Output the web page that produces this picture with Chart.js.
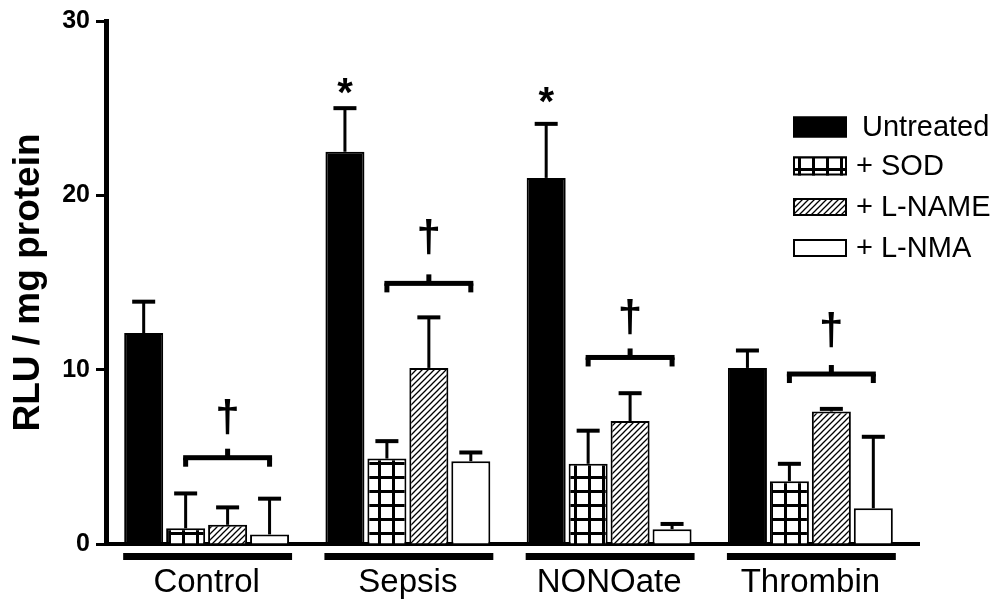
<!DOCTYPE html>
<html><head><meta charset="utf-8">
<script src="https://cdn.jsdelivr.net/npm/chart.js@4/dist/chart.umd.min.js"></script>
<style>html,body{margin:0;padding:0;background:#fff;}#wrap{width:1004px;height:607px;}</style>
</head><body><div id="wrap"><canvas id="c" width="1004" height="607"></canvas></div>
<script>
const categories = ['Control', 'Sepsis', 'NONOate', 'Thrombin'];
const seriesNames = ['Untreated', '+ SOD', '+ L-NAME', '+ L-NMA'];
const untreated = [12.1, 22.5, 21.0, 10.1];
const untreatedErr = [1.8, 2.5, 3.1, 1.0];
const sod = [0.9, 4.9, 4.6, 3.6];
const sodErr = [2.0, 1.0, 1.9, 1.0];
const lname = [1.1, 10.1, 7.05, 7.6];
const lnameErr = [1.0, 2.9, 1.6, 0.15];
const lnma = [0.55, 4.75, 0.85, 2.05];
const lnmaErr = [2.05, 0.5, 0.3, 4.1];
const yTicks = [0, 10, 20, 30];
const bracketLevel = [4.95, 14.95, 10.7, 9.75];
const daggerLevel = [6.25, 16.6, 12.0, 11.25];
const starLevel = [null, 25.8, 25.3, null];

const FONT = "'Liberation Sans', Arial, Helvetica, sans-serif";
const canvas = document.getElementById('c');
const ctx = canvas.getContext('2d');

function gridPattern() {
  const c = document.createElement('canvas'); c.width = 14; c.height = 14;
  const g = c.getContext('2d');
  g.fillStyle = '#fff'; g.fillRect(0, 0, 14, 14);
  g.fillStyle = '#000'; g.fillRect(0, 0, 3, 14); g.fillRect(0, 0, 14, 3);
  return ctx.createPattern(c, 'repeat');
}
function hatchPattern() {
  const s = 6;
  const c = document.createElement('canvas'); c.width = s; c.height = s;
  const g = c.getContext('2d');
  g.fillStyle = '#fff'; g.fillRect(0, 0, s, s);
  g.strokeStyle = '#000'; g.lineWidth = 1.3;
  g.beginPath();
  g.moveTo(-1, s + 1); g.lineTo(s + 1, -1);
  g.moveTo(-1, 1); g.lineTo(1, -1);
  g.moveTo(s - 1, s + 1); g.lineTo(s + 1, s - 1);
  g.stroke();
  return ctx.createPattern(c, 'repeat');
}
const fills = ['#000', gridPattern(), hatchPattern(), '#fff'];
const values = [untreated, sod, lname, lnma];
const errors = [untreatedErr, sodErr, lnameErr, lnmaErr];

const decor = {
  id: 'decor',
  afterDatasetsDraw(chart) {
    const c = chart.ctx, y = chart.scales.y, area = chart.chartArea;
    c.save();
    // error bars
    for (let d = 0; d < 4; d++) {
      const meta = chart.getDatasetMeta(d);
      meta.data.forEach((el, j) => {
        const top = y.getPixelForValue(values[d][j]);
        const cap = y.getPixelForValue(values[d][j] + errors[d][j]);
        c.fillStyle = '#000';
        c.fillRect(el.x - 1.5, cap, 3, top - cap);
        c.fillRect(el.x - 11.5, cap - 2, 23, 4);
      });
    }
    // group bars under axis, brackets, daggers, stars
    const m0 = chart.getDatasetMeta(0), m1 = chart.getDatasetMeta(1), m3 = chart.getDatasetMeta(3);
    categories.forEach((cat, j) => {
      const b0 = m0.data[j], b3 = m3.data[j];
      const left = b0.x - b0.width / 2 - 1, right = b3.x + b3.width / 2 + 3;
      c.fillStyle = '#000';
      c.fillRect(left, area.bottom + 9, right - left, 7);
      const x1 = m1.data[j].x, x2 = b3.x, by = y.getPixelForValue(bracketLevel[j]);
      c.fillRect(x1 - 2.5, by - 2.5, x2 - x1 + 5, 5);
      c.fillRect(x1 - 2.5, by, 5, 9);
      c.fillRect(x2 - 2.5, by, 5, 9);
      const mid = (x1 + x2) / 2;
      c.fillRect(mid - 2.5, by - 9, 5, 8);
      c.font = 'bold 44px ' + FONT; c.textAlign = 'center'; c.textBaseline = 'alphabetic';
      const dm = c.measureText('\u2020');
      c.fillText('\u2020', mid, y.getPixelForValue(daggerLevel[j]) - dm.actualBoundingBoxDescent);
      if (starLevel[j] !== null) {
        c.font = 'bold 40px ' + FONT;
        const sm = c.measureText('*');
        c.fillText('*', b0.x, y.getPixelForValue(starLevel[j]) - sm.actualBoundingBoxDescent);
      }
    });
    // axis extension
    c.fillStyle = '#000';
    c.fillRect(area.right - 2, area.bottom - 2, 922 - area.right, 4);
    // legend
    const rows = [127, 166, 207, 248];
    const heights = [21, 19, 18, 18];
    c.font = '29px ' + FONT; c.textAlign = 'left'; c.textBaseline = 'middle';
    seriesNames.forEach((name, i) => {
      const h = heights[i], top = rows[i] - h / 2;
      c.fillStyle = fills[i];
      c.fillRect(793, top, 54, h);
      c.strokeStyle = '#000'; c.lineWidth = 2;
      c.strokeRect(794, top + 1, 52, h - 2);
      c.fillStyle = '#000';
      c.fillText(name, i === 0 ? 862 : 856, rows[i] + 1);
    });
    c.restore();
  }
};

new Chart(canvas, {
  type: 'bar',
  data: {
    labels: categories,
    datasets: seriesNames.map((name, i) => ({
      label: name, data: values[i], backgroundColor: fills[i],
      borderColor: '#000', borderWidth: 2
    }))
  },
  options: {
    responsive: false, animation: false, devicePixelRatio: 1,
    layout: { padding: { top: 21, right: 93, left: 0, bottom: 0 } },
    datasets: { bar: { categoryPercentage: 0.834, barPercentage: 0.93 } },
    plugins: { legend: { display: false }, tooltip: { enabled: false } },
    scales: {
      x: {
        grid: { display: false, drawTicks: false },
        border: { display: true, color: '#000', width: 4 },
        ticks: { color: '#000', font: { family: FONT, size: 33 }, padding: 19 },
        afterFit(s) { s.height = 63; }
      },
      y: {
        min: 0, max: 30,
        afterBuildTicks(s) { s.ticks = yTicks.map(v => ({ value: v })); },
        ticks: { color: '#000', font: { family: FONT, size: 25, weight: 'bold' }, padding: 6 },
        grid: { display: true, drawOnChartArea: false, drawTicks: true, tickLength: 10, tickWidth: 3, tickColor: '#000' },
        border: { display: true, color: '#000', width: 5 },
        title: { display: true, text: 'RLU / mg protein', color: '#000', font: { family: FONT, size: 37, weight: 'bold' }, padding: { top: 7, bottom: 0 } },
        afterFit(s) { s.width = 106; }
      }
    }
  },
  plugins: [decor]
});
</script></body></html>
